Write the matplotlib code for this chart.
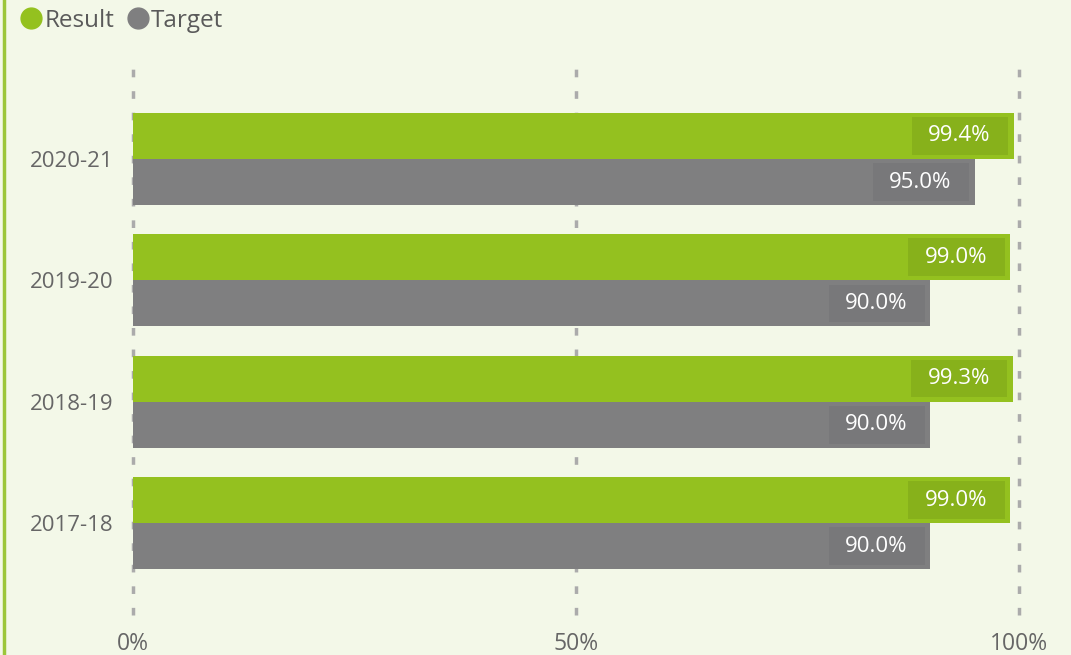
import numpy as np
import matplotlib
matplotlib.use("Agg")
import matplotlib.pyplot as plt
from matplotlib.lines import Line2D

plt.rcParams['font.family'] = ['Open Sans', 'DejaVu Sans']

categories = ["2017-18", "2018-19", "2019-20", "2020-21"]
result = [99.0, 99.3, 99.0, 99.4]
target = [90.0, 90.0, 90.0, 95.0]
xticks = [0, 50, 100]
xticklabels = ["0%", "50%", "100%"]

GREEN = "#94C11F"
GRAY = "#7F7F80"
BG = "#F3F8E8"
TXT = "#666666"

fig = plt.figure(figsize=(10.71, 6.55), dpi=100, facecolor=BG)
ax = fig.add_axes([133 / 1071, 1 - 615 / 655, (1019 - 133) / 1071, 550 / 655])
ax.set_facecolor(BG)

y = np.arange(len(categories))
h = 0.38
ax.barh(y + h / 2, result, height=h, color=GREEN, zorder=2)
ax.barh(y - h / 2, target, height=h, color=GRAY, zorder=2)

# data labels sit on a slightly darker box at the bar end
box_w = 10.9
box_h = 0.31
for yc, vals, boxc in [(y + h / 2, result, "#87B11B"), (y - h / 2, target, "#78787A")]:
    ax.barh(yc, box_w, left=np.array(vals) - 0.6 - box_w, height=box_h,
            color=boxc, zorder=2.5)
    for yi, v in zip(yc, vals):
        ax.text(v - 2.6, yi, f"{v:.1f}%", ha="right", va="center",
                color="white", fontsize=16, zorder=3)

ax.set_xlim(0, 100)
ax.set_ylim(-0.757, 3.774)
ax.set_xticks(xticks)
ax.set_xticklabels(xticklabels, fontsize=16.5, color=TXT)
ax.set_yticks(y)
ax.set_yticklabels(categories, fontsize=16, color=TXT)
ax.tick_params(length=0)
ax.tick_params(axis="x", pad=12)
ax.tick_params(axis="y", pad=14)
for s in ax.spines.values():
    s.set_visible(False)

for xv in xticks:
    ax.axvline(xv, color="#ABABAB", lw=2.5, ls=(0, (2.2, 4.0)), zorder=1,
               clip_on=False)

# legend
handles = [Line2D([], [], marker="o", ls="none", ms=15, color=GREEN),
           Line2D([], [], marker="o", ls="none", ms=15, color=GRAY)]
fig.legend(handles, ["Result", "Target"], loc="upper left",
           bbox_to_anchor=(-0.006, 1.02), ncol=2, frameon=False,
           fontsize=17.5, labelcolor="#5A5A5A", handletextpad=-0.1,
           columnspacing=0.3, handlelength=1.3)

# left border line
fig.add_artist(Line2D([3.5 / 1071, 3.5 / 1071], [0, 1], color="#9CC63A", lw=2.5))

fig.savefig("out.png", dpi=100, facecolor=BG)
